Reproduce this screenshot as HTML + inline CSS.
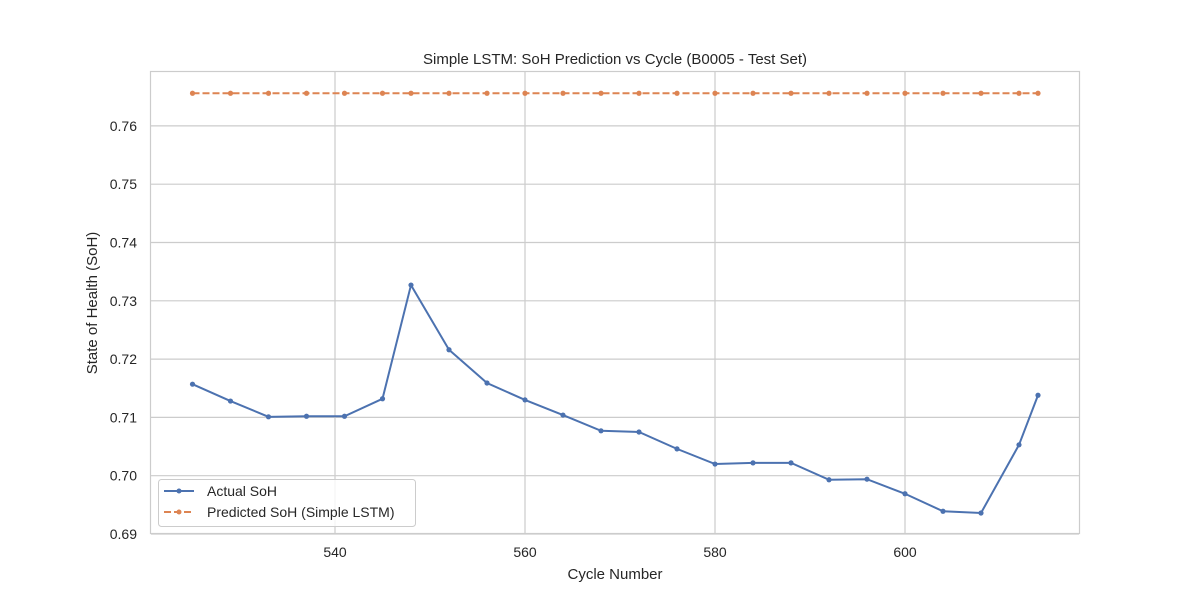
<!DOCTYPE html>
<html><head><meta charset="utf-8"><style>
body{margin:0;background:#fff;}
svg text{font-family:"Liberation Sans",sans-serif;fill:#262626;}
</style></head><body>
<svg id="chart" width="1200" height="600" xmlns="http://www.w3.org/2000/svg">
<rect x="0" y="0" width="1200" height="600" fill="#fff"/>
<rect x="150.5" y="71.5" width="929" height="462" fill="#fff" stroke="#ccc" stroke-width="1.2"/>
<g id="grid"></g>
<g id="series"></g>
<text x="615" y="64" font-size="15" text-anchor="middle">Simple LSTM: SoH Prediction vs Cycle (B0005 - Test Set)</text>
<text x="615" y="579" font-size="15" text-anchor="middle">Cycle Number</text>
<text x="97" y="303" font-size="15" text-anchor="middle" transform="rotate(-90 97 303)">State of Health (SoH)</text>
<g>
<rect x="158.5" y="479.5" width="257" height="47" rx="3" fill="#fff" fill-opacity="0.8" stroke="#ccc"/>
<line x1="164" y1="491" x2="194" y2="491" stroke="#4c72b0" stroke-width="2"/>
<circle cx="179" cy="491" r="2.5" fill="#4c72b0"/>
<text x="207" y="496" font-size="14">Actual SoH</text>
<line x1="164" y1="512" x2="194" y2="512" stroke="#dd8452" stroke-width="2" stroke-dasharray="7,3"/>
<circle cx="179" cy="512" r="2.5" fill="#dd8452"/>
<text x="207" y="517" font-size="14">Predicted SoH (Simple LSTM)</text>
</g>
</svg>
<script>
const cycles=[525,529,533,537,541,545,548,552,556,560,564,568,572,576,580,584,588,592,596,600,604,608,612,614];
const actual=[.7157,.7128,.7101,.7102,.7102,.7132,.7327,.7216,.7159,.7130,.7104,.7077,.7075,.7046,.7020,.7022,.7022,.6993,.6994,.6969,.6939,.6936,.7053,.7138];
const predicted=[.7656,.7656,.7656,.7656,.7656,.7656,.7656,.7656,.7656,.7656,.7656,.7656,.7656,.7656,.7656,.7656,.7656,.7656,.7656,.7656,.7656,.7656,.7656,.7656];
const xTicks=[540,560,580,600];
const yTicks=[0.69,0.70,0.71,0.72,0.73,0.74,0.75,0.76];
const NS="http://www.w3.org/2000/svg";
const xs=v=>335+(v-540)*9.5;
const ys=v=>534-(v-0.69)*5830;
const grid=document.getElementById('grid'),ser=document.getElementById('series');
function mk(tag,attrs,parent){const e=document.createElementNS(NS,tag);for(const k in attrs)e.setAttribute(k,attrs[k]);parent.appendChild(e);return e;}
xTicks.forEach(t=>{
 const l=mk('line',{x1:xs(t),x2:xs(t),y1:72,y2:533,stroke:'#ccc','stroke-width':1.2},grid);
 
 
 const tx=mk('text',{x:xs(t),y:557,'font-size':14,'text-anchor':'middle'},grid);tx.textContent=t;
 
 
});
yTicks.forEach(t=>{
 const l=mk('line',{x1:151,x2:1079,y1:ys(t),y2:ys(t),stroke:'#ccc','stroke-width':1.2},grid);
 
 
 const tx=mk('text',{x:137,y:ys(t)+5,'font-size':14,'text-anchor':'end'},grid);tx.textContent=t.toFixed(2);
 
 
});
function draw(vals,color,dash,name){
 const p=mk('polyline',{points:cycles.map((c,i)=>xs(c)+','+ys(vals[i])).join(' '),fill:'none',stroke:color,'stroke-width':2,'stroke-dasharray':dash},ser);
 
 
 cycles.forEach((c,i)=>{const m=mk('circle',{cx:xs(c),cy:ys(vals[i]),r:2.6,fill:color},ser);
  
  });
}
draw(predicted,'#dd8452','7,3','predicted-soh');
draw(actual,'#4c72b0','none','actual-soh');
</script>
</body></html>
